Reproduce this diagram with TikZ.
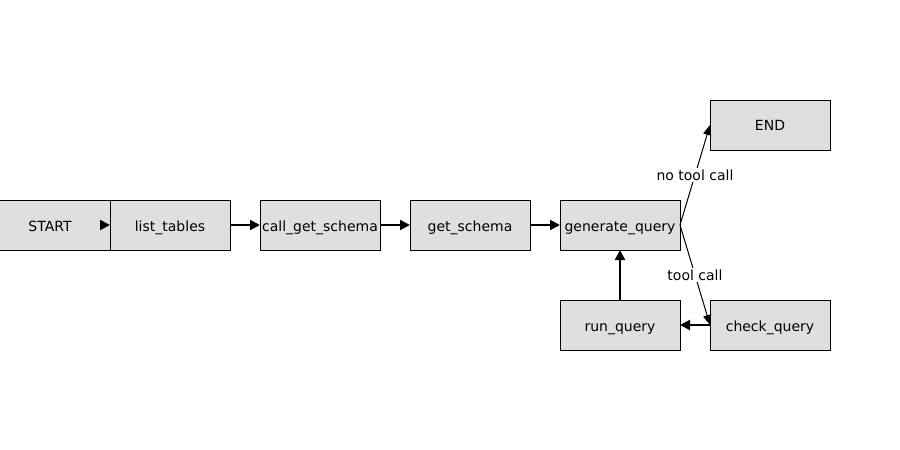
\documentclass[tikz,border=0pt]{standalone}
\usepackage{fontspec}
\setmainfont{DejaVu Sans}
\usetikzlibrary{positioning,arrows.meta}

\begin{document}
\begin{tikzpicture}[
    node distance=22.5pt,
    box/.style={rectangle, draw=black, line width=0.75pt, fill=gray!25, minimum width=90pt, minimum height=37.5pt, inner sep=0pt, outer sep=0pt, text height=10pt, text depth=1pt, font=\fontsize{10.5}{12}\selectfont},
    arrow/.style={-{Triangle[length=7.5pt,width=7.5pt]}, line width=1.5pt},
    branch/.style={-{Triangle[length=7.5pt,width=6pt]}, line width=0.75pt},
    edgelabel/.style={fill=white, inner sep=1pt, font=\fontsize{10.5}{12}\selectfont}
]
    \useasboundingbox (-37.5pt,-168.75pt) rectangle (637.5pt,168.75pt);

    \node[box] (start) at (0,0) {START};
    \node[box, right=0pt of start] (list) {list\_tables};
    \node[box, right=of list] (callschema) {call\_get\_schema};
    \node[box, right=of callschema] (schema) {get\_schema};
    \node[box, right=of schema] (gen) {generate\_query};
    \node[box, above right=37.5pt and 22.5pt of gen] (end) {END};
    \node[box, below right=37.5pt and 22.5pt of gen] (check) {check\_query};
    \node[box, left=of check] (run) {run\_query};

    \draw[arrow] ([xshift=-7.5pt]start.east) -- (list.west);
    \draw[arrow] (list) -- (callschema);
    \draw[arrow] (callschema) -- (schema);
    \draw[arrow] (schema) -- (gen);
    \draw[branch] (gen.east) -- node[edgelabel] {no tool call} (end.west);
    \draw[branch] (gen.east) -- node[edgelabel] {tool call} (check.west);
    \draw[arrow] (check) -- (run);
    \draw[arrow] (run) -- (gen);
\end{tikzpicture}
\end{document}
